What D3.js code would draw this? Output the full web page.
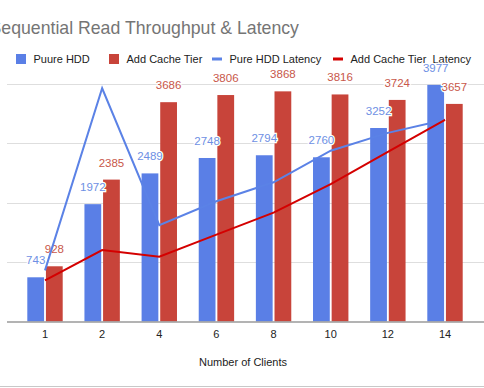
<!DOCTYPE html>
<html>
<head>
<meta charset="utf-8">
<script src="https://cdn.jsdelivr.net/npm/d3@7"></script>
<style>
  body { margin: 0; background: #fff; }
  svg { display: block; font-family: "Liberation Sans", Arial, sans-serif; }
</style>
</head>
<body>
<script>
var width = 484;
var height = 388;

// data
var clients = ["1", "2", "4", "6", "8", "10", "12", "14"];
var pureHdd = [743, 1972, 2489, 2748, 2794, 2760, 3252, 3977];
var cacheTier = [928, 2385, 3686, 3806, 3868, 3816, 3724, 3657];
// latency on the (hidden) right axis
var pureHddLatency = [8.6, 39.2, 16.2, 20.2, 23.4, 28.7, 31.7, 33.9];
var cacheTierLatency = [6.9, 12.0, 10.9, 14.6, 18.3, 23.1, 28.5, 33.9];
var yTicks = [0, 1000, 2000, 3000, 4000];

var blue = "#5a7fe6";
var red = "#c8443a";

var svg = d3.select("body")
  .append("svg")
  .attr("width", width)
  .attr("height", height);

var x = d3.scalePoint().domain(clients).range([45, 445]);
var inner = d3.scaleBand().domain(["hdd", "cache"]).range([-17.7, 17.7]).paddingInner(0.1);
var y = d3.scaleLinear().domain([0, 4000]).range([321.5, 83.5]);
var y2 = d3.scaleLinear().domain([0, 40]).range([321.5, 83.5]);

// title (cropped on the left like the reference)
svg.append("text")
  .attr("x", -10.5)
  .attr("y", 34)
  .attr("fill", "#757575")
  .attr("font-size", 17.7)
  .text("Sequential Read Throughput & Latency");

// gridlines
svg.append("g")
  .selectAll("line")
  .data(yTicks.slice(1))
  .enter()
  .append("line")
  .attr("x1", 7)
  .attr("x2", width)
  .attr("y1", function (d) { return Math.round(y(d)) + 0.5; })
  .attr("y2", function (d) { return Math.round(y(d)) + 0.5; })
  .attr("stroke", "#dedede")
  .attr("stroke-width", 1);

// legend
var legend = svg.append("g").attr("font-size", 11).attr("fill", "#222");
var legendItems = [
  { name: "Puure HDD", type: "box", color: blue, x: 16 },
  { name: "Add Cache Tier", type: "box", color: red, x: 109 },
  { name: "Pure HDD Latency", type: "line", color: "#5b82e6", x: 212 },
  { name: "Add Cache Tier  Latency", type: "line", color: "#d40000", x: 333 }
];
legendItems.forEach(function (d) {
  if (d.type == "box") {
    legend.append("rect")
      .attr("x", d.x).attr("y", 54).attr("width", 10).attr("height", 10)
      .attr("fill", d.color);
  } else {
    legend.append("rect")
      .attr("x", d.x).attr("y", 57.5).attr("width", 10).attr("height", 3)
      .attr("fill", d.color);
  }
  legend.append("text")
    .attr("x", d.x + 17.5)
    .attr("y", 63)
    .attr("xml:space", "preserve")
    .style("white-space", "pre")
    .text(d.name);
});

// bars
var groups = svg.append("g")
  .selectAll("g")
  .data(clients)
  .enter()
  .append("g")
  .attr("transform", function (d) { return "translate(" + x(d) + ",0)"; });

groups.append("rect")
  .attr("x", inner("hdd"))
  .attr("width", inner.bandwidth())
  .attr("y", function (d, i) { return y(pureHdd[i]); })
  .attr("height", function (d, i) { return y(0) - y(pureHdd[i]); })
  .attr("fill", blue);

groups.append("rect")
  .attr("x", inner("cache"))
  .attr("width", inner.bandwidth())
  .attr("y", function (d, i) { return y(cacheTier[i]); })
  .attr("height", function (d, i) { return y(0) - y(cacheTier[i]); })
  .attr("fill", red);

// baseline
svg.append("line")
  .attr("x1", 7).attr("x2", width)
  .attr("y1", y(0) + 0.5).attr("y2", y(0) + 0.5)
  .attr("stroke", "#9a9a9a")
  .attr("stroke-width", 1.5);

// latency lines
var lineHdd = d3.line()
  .x(function (d, i) { return x(clients[i]); })
  .y(function (d) { return y2(d); });

svg.append("path")
  .attr("d", lineHdd(pureHddLatency))
  .attr("fill", "none")
  .attr("stroke", "#5b82e6")
  .attr("stroke-width", 2);

svg.append("path")
  .attr("d", lineHdd(cacheTierLatency))
  .attr("fill", "none")
  .attr("stroke", "#d40000")
  .attr("stroke-width", 2);

// data labels
groups.append("text")
  .attr("x", inner("hdd") + inner.bandwidth() / 2)
  .attr("y", function (d, i) { return y(pureHdd[i]) - 13; })
  .attr("text-anchor", "middle")
  .attr("font-size", 11.5)
  .attr("fill", "#6e90e4")
  .attr("stroke", "#fff")
  .attr("stroke-width", 2.5)
  .attr("paint-order", "stroke")
  .text(function (d, i) { return pureHdd[i]; });

groups.append("text")
  .attr("x", inner("cache") + inner.bandwidth() / 2)
  .attr("y", function (d, i) { return y(cacheTier[i]) - 13; })
  .attr("text-anchor", "middle")
  .attr("font-size", 11.5)
  .attr("fill", "#c8574a")
  .attr("stroke", "#fff")
  .attr("stroke-width", 2.5)
  .attr("paint-order", "stroke")
  .text(function (d, i) { return cacheTier[i]; });

// x axis labels
svg.append("g")
  .selectAll("text")
  .data(clients)
  .enter()
  .append("text")
  .attr("x", function (d) { return x(d); })
  .attr("y", 337.5)
  .attr("text-anchor", "middle")
  .attr("font-size", 11)
  .attr("fill", "#222")
  .text(function (d) { return d; });

svg.append("text")
  .attr("x", 243)
  .attr("y", 365.5)
  .attr("text-anchor", "middle")
  .attr("font-size", 11)
  .attr("fill", "#222")
  .text("Number of Clients");

// bottom border
svg.append("line")
  .attr("x1", 0).attr("x2", width)
  .attr("y1", 386.5).attr("y2", 386.5)
  .attr("stroke", "#c8c8c8")
  .attr("stroke-width", 1);
</script>
</body>
</html>
